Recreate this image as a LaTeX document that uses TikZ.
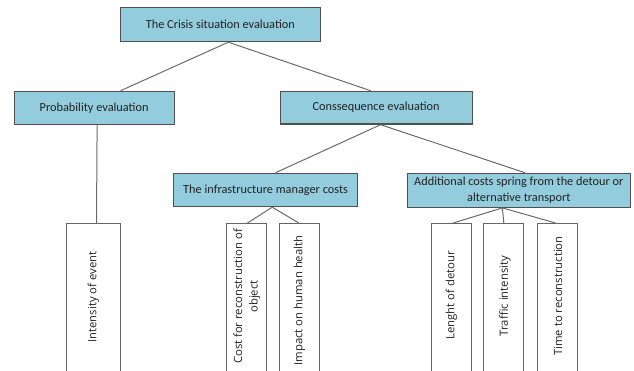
\documentclass[tikz,border=0pt]{standalone}
\usepackage{fontspec}
\setmainfont{Carlito}
\newfontfamily\leaffont{Open Sans}
\definecolor{boxblue}{HTML}{93CDDD}
\definecolor{boxedge}{HTML}{505050}
\definecolor{leafedge}{HTML}{666666}
\definecolor{linegray}{HTML}{6A6A6A}
\definecolor{txt}{HTML}{222222}
\begin{document}
\begin{tikzpicture}[x=1pt,y=-1pt,
  bluebox/.style={draw=boxedge, line width=1.2pt, fill=boxblue, inner sep=0pt, anchor=north west,
    font=\fontsize{12.3}{16}\selectfont, text=txt, align=center},
  leafbox/.style={draw=leafedge, line width=1pt, fill=white, inner sep=0pt, anchor=north west},
  leaftext/.style={rotate=90, font=\leaffont\fontsize{11.3}{15.5}\selectfont, text=txt, align=center},
  conn/.style={draw=linegray, line width=1pt}]
\useasboundingbox (0,0) rectangle (634,371);
\clip (0,0) rectangle (634,371);
% blue boxes
\node[bluebox, minimum width=200.5pt, minimum height=33.7pt] (top) at (119.5,7.3) {The Crisis situation evaluation};
\node[bluebox, minimum width=160pt, minimum height=33.3pt] (prob) at (13.5,90.7) {Probability evaluation};
\node[bluebox, minimum width=192pt, minimum height=32.8pt] (cons) at (279.5,90.7) {Conssequence evaluation};
\node[bluebox, minimum width=184pt, minimum height=33.3pt] (infra) at (173,172.7) {The infrastructure manager costs};
\node[bluebox, minimum width=223.5pt, minimum height=34pt] (addl) at (406.5,172.7) {Additional costs spring from the detour or\\alternative transport};
% leaf boxes
\node[leafbox, minimum width=54pt, minimum height=152pt] (int) at (66,223) {};
\node[leafbox, minimum width=40pt, minimum height=152pt] (cost) at (226,223) {};
\node[leafbox, minimum width=40pt, minimum height=152pt] (imp) at (279.3,223) {};
\node[leafbox, minimum width=40pt, minimum height=152pt] (len) at (430.7,223) {};
\node[leafbox, minimum width=40pt, minimum height=152pt] (traf) at (483.3,223) {};
\node[leafbox, minimum width=40pt, minimum height=152pt] (time) at (536.7,223) {};
% leaf texts
\node[leaftext] (intt) at (93.5,297) {Intensity of event};
\node[leaftext] (costt) at (247,296.5) {Cost for reconstruction of\\object};
\node[leaftext] (impt) at (299.5,300.5) {Impact on human health};
\node[leaftext] (lent) at (451.5,295.5) {Lenght of detour};
\node[leaftext] (traft) at (505,296) {Traffic intensity};
\node[leaftext] (timet) at (558,296) {Time to reconstruction};
% connectors
\draw[conn] ([xshift=8pt]top.south) -- ([xshift=26.5pt]prob.north);
\draw[conn] ([xshift=8pt]top.south) -- ([xshift=-5.5pt]cons.north);
\draw[conn] ([xshift=4.5pt]cons.south) -- ([xshift=10pt]infra.north);
\draw[conn] ([xshift=4.5pt]cons.south) -- ([xshift=6pt]addl.north);
\draw[conn] ([xshift=3pt]prob.south) -- ([xshift=3pt]int.north);
\draw[conn] ([xshift=6.7pt]infra.south) -- ([xshift=1pt]cost.north);
\draw[conn] ([xshift=6.7pt]infra.south) -- ([xshift=-1pt]imp.north);
\draw[conn] ([xshift=-16.5pt]addl.south) -- ([xshift=2pt]len.north);
\draw[conn] ([xshift=-16.5pt]addl.south) -- (traf.north);
\draw[conn] ([xshift=-16.5pt]addl.south) -- ([xshift=-1.7pt]time.north);
\end{tikzpicture}
\end{document}
